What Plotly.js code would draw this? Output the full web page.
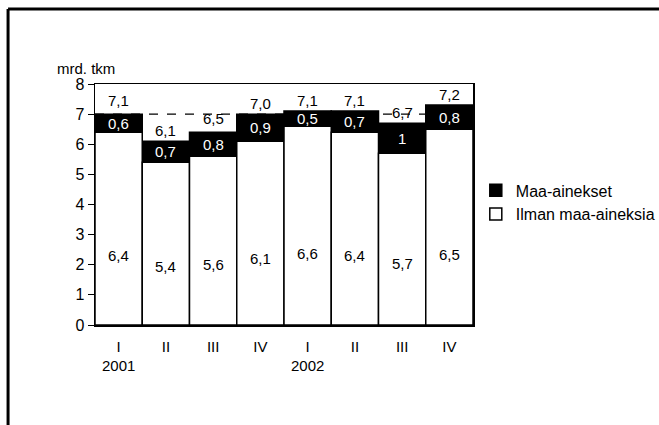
<!DOCTYPE html>
<html><head><meta charset="utf-8">
<script src="https://cdn.plot.ly/plotly-3.0.1.min.js"></script>
<style>html,body{margin:0;padding:0;background:#fff}#chart{width:659px;height:425px}</style>
</head><body><div id="chart"></div>
<script>
const quarters = ["I","II","III","IV","I","II","III","IV"];
const years = ["2001","","","","2002","","",""];
const ilman = [6.4,5.4,5.6,6.1,6.6,6.4,5.7,6.5];
const maa = [0.6,0.7,0.8,0.9,0.5,0.7,1,0.8];
const totals = [7.1,6.1,6.5,7.0,7.1,7.1,6.7,7.2];

const fmt = v => (Number.isInteger(v) ? String(v) : v.toFixed(1)).replace('.', ',');
const fmt1 = v => v.toFixed(1).replace('.', ',');
const x = quarters.map((q,i)=>i);
const ticktext = quarters.map((q,i)=> years[i] ? q + '<br>' + years[i] : q);
const font = {family:'Liberation Sans, Arial, sans-serif', size:15, color:'#000'};

const traces = [
  {type:'bar', name:'Maa-ainekset', x:x, y:maa, base:ilman, marker:{color:'#000', line:{color:'#000', width:1.5}}, hoverinfo:'none'},
  {type:'bar', name:'Ilman maa-aineksia', x:x, y:ilman, marker:{color:'#fff', line:{color:'#000', width:1.5}}, hoverinfo:'none'}
];

const annotations = [];
x.forEach(i=>{
  annotations.push({x:i, y:ilman[i]*0.36, text:fmt(ilman[i]), showarrow:false, font:font});
  annotations.push({x:i, y:ilman[i]+maa[i]/2, text:fmt(maa[i]), showarrow:false, font:Object.assign({},font,{color:'#fff'})});
  annotations.push({x:i, y:Math.max(ilman[i]+maa[i], totals[i]), yshift:11, text:fmt1(totals[i]), showarrow:false, font:font});
});
annotations.push({xref:'paper', yref:'paper', x:-0.105, y:1.0, yshift:5, xanchor:'left', yanchor:'bottom', text:'mrd. tkm', showarrow:false, font:Object.assign({},font,{size:15})});

const layout = {
  width:659, height:425,
  margin:{l:95, r:186, t:84, b:100},
  paper_bgcolor:'#fff', plot_bgcolor:'#fff',
  barmode:'overlay', bargap:0,
  font:font,
  showlegend:true,
  legend:{xref:'container', yref:'container', x:0.722, y:0.592, xanchor:'left', yanchor:'top', traceorder:'normal', font:Object.assign({},font,{size:16}), itemwidth:30, bgcolor:'rgba(0,0,0,0)'},
  xaxis:{range:[-0.5,7.5], tickmode:'array', tickvals:x, ticktext:ticktext, showline:true, linecolor:'#000', linewidth:1.5, mirror:true, ticks:'', ticklabelstandoff:7, showgrid:false, zeroline:false, tickfont:font, fixedrange:true},
  yaxis:{range:[0,8], dtick:1, showline:true, linecolor:'#000', linewidth:1.5, mirror:true, ticks:'outside', ticklen:6, tickcolor:'#000', showgrid:false, zeroline:false, tickfont:Object.assign({},font,{size:16}), fixedrange:true},
  shapes:[
    {type:'line', xref:'paper', yref:'y', x0:0, x1:1, y0:7, y1:7, line:{color:'#000', width:1.2, dash:'dash'}, layer:'below'},
    {type:'line', xref:'paper', yref:'paper', x0:-0.230, x1:1.5, y0:1.311, y1:1.311, line:{color:'#000', width:3}},
    {type:'line', xref:'paper', yref:'paper', x0:-0.230, x1:-0.230, y0:1.311, y1:-0.45, line:{color:'#000', width:3}}
  ],
  annotations:annotations
};
Plotly.newPlot('chart', traces, layout, {displayModeBar:false, staticPlot:true});
</script></body></html>
